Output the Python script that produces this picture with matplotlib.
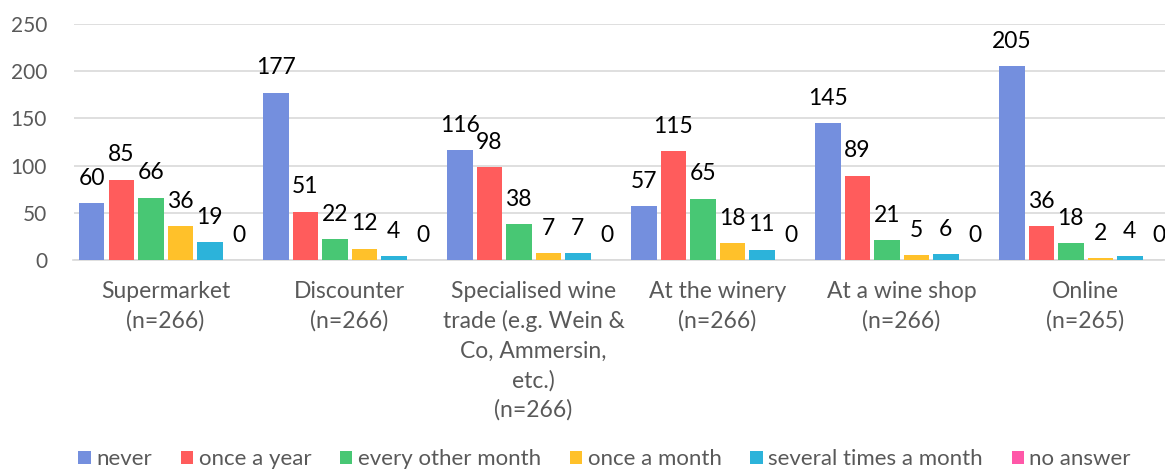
import numpy as np
import matplotlib.pyplot as plt
from matplotlib.patches import Patch

plt.rcParams['font.family'] = ['Lato', 'DejaVu Sans']

categories = ['Supermarket\n(n=266)', 'Discounter\n(n=266)',
              'Specialised wine\ntrade (e.g. Wein &\nCo, Ammersin,\netc.)\n(n=266)',
              'At the winery\n(n=266)', 'At a wine shop\n(n=266)', 'Online\n(n=265)']
series = ['never', 'once a year', 'every other month', 'once a month',
          'several times a month', 'no answer']
never = [60, 177, 116, 57, 145, 205]
once_year = [85, 51, 98, 115, 89, 36]
other_month = [66, 22, 38, 65, 21, 18]
once_month = [36, 12, 7, 18, 5, 2]
several = [19, 4, 7, 11, 6, 4]
no_answer = [0, 0, 0, 0, 0, 0]
values = [never, once_year, other_month, once_month, several, no_answer]
colors = ['#748fde', '#ff5c5c', '#48c774', '#ffc12a', '#2cb3da', '#ff57a8']

fig = plt.figure(figsize=(11.65, 4.69), dpi=100)
ax = fig.add_axes([73.5 / 1165, 209 / 469, 1104 / 1165, 236 / 469])

x = np.arange(len(categories))
step = 29.5 / 184
w = 25.5 / 184
for i, (vals, col) in enumerate(zip(values, colors)):
    pos = x + (i - 2.5) * step
    ax.bar(pos, vals, width=w, color=col, zorder=3)
    for p, v in zip(pos, vals):
        ax.annotate(str(v), (p, v), xytext=(0, 18), textcoords='offset points',
                    ha='center', va='center', fontsize=16.5, color='black')

ax.set_xlim(-0.5, 5.5)
ax.set_ylim(0, 250)
ax.set_yticks(range(0, 251, 50))
ax.yaxis.grid(True, color='#d9d9d9', linewidth=1.2, zorder=0)
ax.set_axisbelow(True)
for s in ['top', 'right', 'left']:
    ax.spines[s].set_visible(False)
ax.spines['bottom'].set_color('#d9d9d9')
ax.spines['bottom'].set_linewidth(1.2)
ax.tick_params(axis='y', length=0, labelsize=15, labelcolor='#595959', pad=19)
ax.tick_params(axis='x', length=0, pad=0)
ax.set_xticks(x)
ax.set_xticklabels([])
for xi, lab in zip(x, categories):
    ax.text(xi, -22, lab, ha='center', va='top', fontsize=16.5, color='#595959',
            linespacing=1.47)

handles = [Patch(facecolor=c, label=s) for c, s in zip(colors, series)]
fig.legend(handles=handles, loc='center', bbox_to_anchor=(0.519, 0.021), ncol=6,
           frameon=False, fontsize=16, labelcolor='#595959', handlelength=0.55,
           handleheight=0.55, handletextpad=0.25, columnspacing=1.3)

fig.savefig('out.png', dpi=100)
